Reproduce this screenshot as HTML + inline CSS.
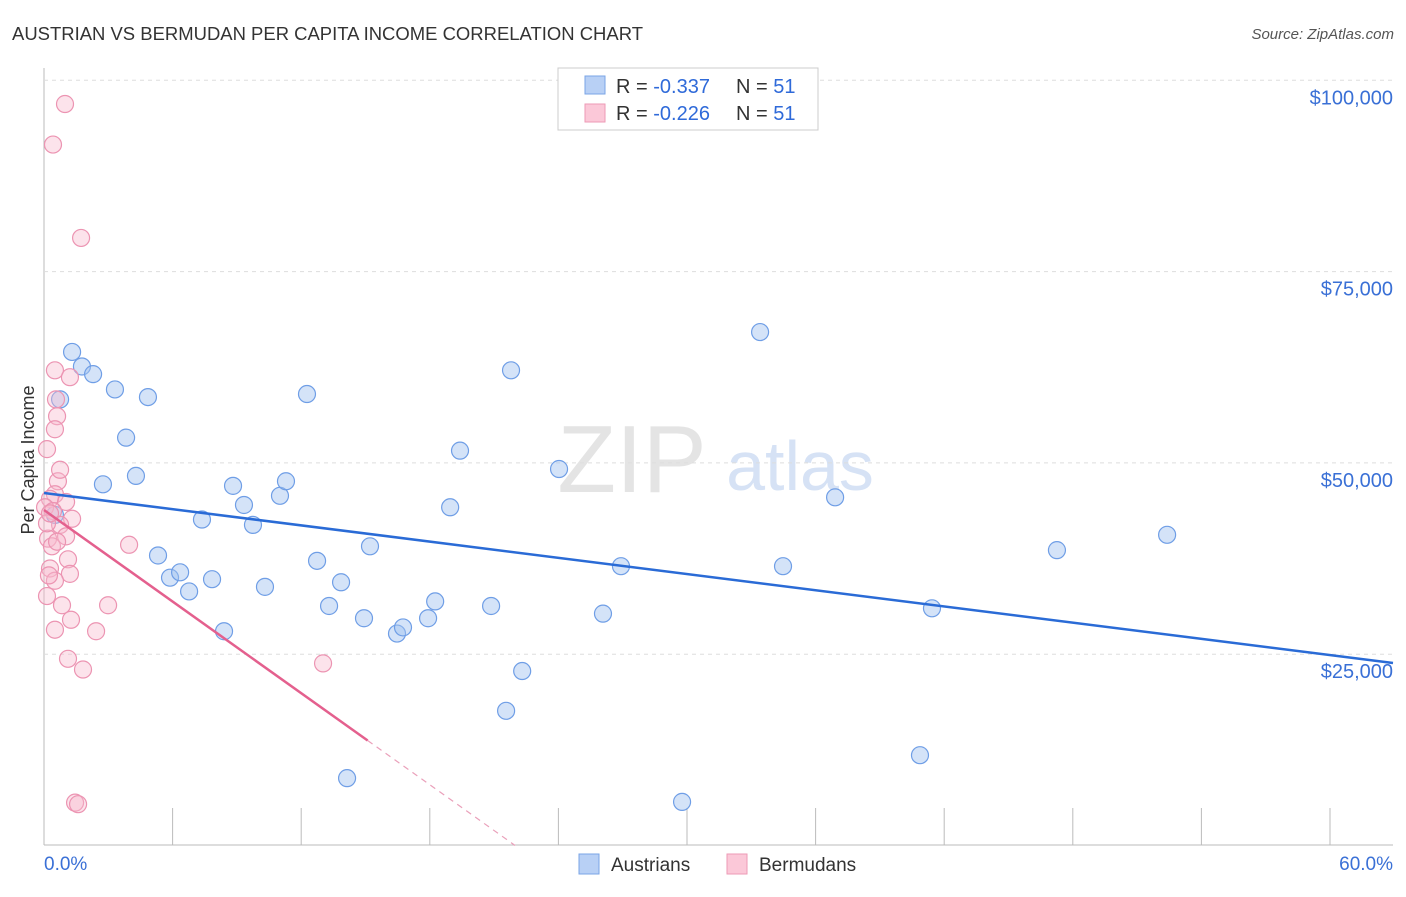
<!DOCTYPE html>
<html><head><meta charset="utf-8"><style>
body{margin:0;background:#fff;font-family:"Liberation Sans",sans-serif;}
svg text{font-family:"Liberation Sans",sans-serif;}
</style></head><body>
<svg id="c" width="1406" height="892" xmlns="http://www.w3.org/2000/svg">
<text x="12" y="40" font-size="18" fill="#333" textLength="631" lengthAdjust="spacingAndGlyphs">AUSTRIAN VS BERMUDAN PER CAPITA INCOME CORRELATION CHART</text>
<text x="1394" y="39" font-size="15" fill="#555" font-style="italic" text-anchor="end">Source: ZipAtlas.com</text>
<text x="632" y="492" font-size="96" fill="#e4e4e4" font-family="Liberation Serif" text-anchor="middle">ZIP</text>
<text x="800" y="490" font-size="70" fill="#d6e2f5" text-anchor="middle">atlas</text>
<g id="grid"></g><g id="marks"></g>
<text x="34" y="460" font-size="18" fill="#333" transform="rotate(-90 34 460)" text-anchor="middle">Per Capita Income</text>
<g>
<rect x="558" y="68" width="260" height="62" fill="#fff" stroke="#ccc"/>
<rect x="585" y="76" width="20" height="18" fill="#b8d0f5" stroke="#7aa4e6"/>
<rect x="585" y="104" width="20" height="18" fill="#fbc8d8" stroke="#ee9ab6"/>
<text x="616" y="93" font-size="20" fill="#333">R = <tspan fill="#2f6ad9">-0.337</tspan></text>
<text x="736" y="93" font-size="20" fill="#333">N = <tspan fill="#2f6ad9">51</tspan></text>
<text x="616" y="120" font-size="20" fill="#333">R = <tspan fill="#2f6ad9">-0.226</tspan></text>
<text x="736" y="120" font-size="20" fill="#333">N = <tspan fill="#2f6ad9">51</tspan></text>
</g>
<g>
<rect x="579" y="854" width="20" height="20" fill="#b8d0f5" stroke="#7aa4e6"/>
<text x="611" y="871" font-size="19" fill="#333">Austrians</text>
<rect x="727" y="854" width="20" height="20" fill="#fbc8d8" stroke="#ee9ab6"/>
<text x="759" y="871" font-size="19" fill="#333">Bermudans</text>
</g>
<text x="44" y="870" font-size="19" fill="#3a70d6">0.0%</text>
<text x="1393" y="870" font-size="19" fill="#3a70d6" text-anchor="end">60.0%</text>
</svg>
<script>
const yTicks=[25000,50000,75000,100000];
const yTickLabels=["$25,000","$50,000","$75,000","$100,000"];
const xTicks=[0,6,12,18,24,30,36,42,48,54,60];
const blueX=[1.31,1.77,2.29,3.31,4.85,0.75,3.83,4.29,2.75,5.32,5.88,6.35,6.77,7.84,7.37,8.40,8.82,9.33,9.75,10.31,11.01,11.29,12.27,12.74,13.30,13.86,14.14,14.93,15.21,16.47,16.75,17.92,18.25,18.95,19.41,20.86,21.56,21.79,22.31,24.03,26.08,26.92,29.77,33.41,34.48,36.91,40.87,41.43,47.26,52.40,0.51];
const blueY=[64500,62600,61600,59600,58600,58300,53300,48300,47200,37900,35000,35700,33200,34800,42600,28000,47000,44500,41900,33800,45700,47600,59000,37200,31300,34400,8800,29700,39100,27700,28500,29700,31900,44200,51600,31300,17600,62100,22800,49200,30300,36500,5700,67100,36500,45500,11800,31000,38600,40600,43200];
const pinkX=[0.98,0.42,1.73,0.51,1.21,0.56,0.61,0.51,0.14,0.65,0.51,0.28,1.03,0.05,0.42,1.31,0.75,1.03,0.19,0.37,3.97,1.12,0.28,1.21,0.51,0.14,0.84,2.99,1.26,0.51,2.43,1.12,1.82,13.02,1.45,1.59,0.14,0.28,0.75,0.23,0.61];
const pinkY=[96900,91600,79400,62100,61200,58300,56100,54400,51800,47600,45900,45300,44900,44200,43700,42700,41900,40400,40100,39100,39300,37400,36200,35500,34600,32600,31400,31400,29500,28200,28000,24400,23000,23800,5600,5400,42100,43400,49100,35300,39700];
const blueTrend=[46070,-353];
const pinkTrend=[43850,-1995];
const pinkSolidEnd=15.1;
const NS="http://www.w3.org/2000/svg";
const X=v=>44+v/60*1286, Y=v=>845.5-v/25000*191.3;
function mk(t,a,p){const e=document.createElementNS(NS,t);for(const k in a)e.setAttribute(k,a[k]);p.appendChild(e);return e;}
const g=document.getElementById('grid'),m=document.getElementById('marks');
mk('line',{x1:44,y1:68,x2:44,y2:845,stroke:'#bbb'},g);
mk('line',{x1:44,y1:845,x2:1393,y2:845,stroke:'#bbb'},g);
yTicks.forEach((t,i)=>{
 const l=mk('line',{x1:44,y1:Y(t),x2:1393,y2:Y(t),stroke:'#ddd','stroke-dasharray':'4,4'},g);
 
 
 const tx=mk('text',{x:1393,y:Y(t)+24,'font-size':20,fill:'#3a70d6','text-anchor':'end'},g);
 tx.textContent=yTickLabels[i];
 
 
});
xTicks.forEach(t=>{
 const l=mk('line',{x1:X(t),y1:808,x2:X(t),y2:845,stroke:'#bbb'},g);
 
 
});
blueX.forEach((x,i)=>{
 const c=mk('circle',{cx:X(x),cy:Y(blueY[i]),r:8.5,fill:'rgba(160,192,240,0.45)',stroke:'#6f9ee6','stroke-width':1.2},m);
 
 
});
pinkX.forEach((x,i)=>{
 const c=mk('circle',{cx:X(x),cy:Y(pinkY[i]),r:8.5,fill:'rgba(248,184,204,0.4)',stroke:'#ec94b2','stroke-width':1.2},m);
 
 
});
const bx2=(1393-44)/1286*60;
const bl=mk('line',{x1:X(0),y1:Y(blueTrend[0]),x2:X(bx2),y2:Y(blueTrend[0]+blueTrend[1]*bx2),stroke:'#2a6bd6','stroke-width':2.5},m);


const pz=-pinkTrend[0]/pinkTrend[1];
const pl=mk('line',{x1:X(0),y1:Y(pinkTrend[0]),x2:X(pinkSolidEnd),y2:Y(pinkTrend[0]+pinkTrend[1]*pinkSolidEnd),stroke:'#e4608e','stroke-width':2.5},m);


const pd=mk('line',{x1:X(pinkSolidEnd),y1:Y(pinkTrend[0]+pinkTrend[1]*pinkSolidEnd),x2:X(pz),y2:Y(0),stroke:'#eaa0ba','stroke-width':1.2,'stroke-dasharray':'6,5'},m);


</script>
</body></html>
